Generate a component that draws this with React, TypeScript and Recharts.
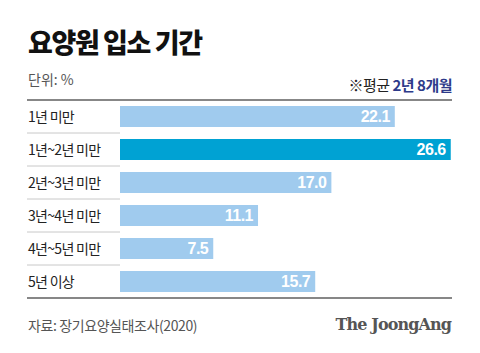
import { BarChart, Bar, XAxis, YAxis, LabelList, Cell } from 'recharts';

const categories = ['1년 미만', '1년~2년 미만', '2년~3년 미만', '3년~4년 미만', '4년~5년 미만', '5년 이상'];
const shares = [22.1, 26.6, 17.0, 11.1, 7.5, 15.7];
const highlighted = '1년~2년 미만';

const data = categories.map((name, i) => ({ name, value: shares[i] }));

const KR = '"Noto Sans CJK KR", "Noto Sans", sans-serif';
const LEFT = 27;
const RIGHT = 452;
const ROW = 33;

function RowTick(props: { x?: number; y?: number; index?: number; payload?: { value: string } }) {
  const { y = 0, index = 0, payload } = props;
  if (!payload) return null;
  const last = index === categories.length - 1;
  return (
    <g>
      {index === 0 && <line x1={LEFT} x2={RIGHT} y1={y - ROW / 2} y2={y - ROW / 2} stroke="#111" strokeWidth={1.2} />}
      {last ? (
        <line x1={LEFT} x2={RIGHT} y1={y + ROW / 2} y2={y + ROW / 2} stroke="#111" strokeWidth={1.2} />
      ) : (
        <line x1={LEFT} x2={120} y1={y + ROW / 2} y2={y + ROW / 2} stroke="#c8c8c8" strokeWidth={1} />
      )}
      <text x={LEFT + 1} y={y} dy={5} textAnchor="start" fill="#222" fontSize={14} fontFamily={KR} letterSpacing={-0.7}>
        {payload.value}
      </text>
    </g>
  );
}

export default function App() {
  return (
    <div style={{ position: 'absolute', left: 0, top: 0, width: 480, height: 353, background: '#fff', fontFamily: KR }}>
      <div style={{ position: 'absolute', left: 28, top: 23, fontSize: 27, fontWeight: 900, color: '#111', letterSpacing: -1.4, lineHeight: '38px' }}>
        요양원 입소 기간
      </div>
      <div style={{ position: 'absolute', left: 28, top: 69, fontSize: 14, color: '#555', lineHeight: '20px' }}>
        단위: %
      </div>
      <div style={{ position: 'absolute', right: 28, top: 74, fontSize: 15, color: '#222', lineHeight: '22px', letterSpacing: -0.5 }}>
        ※평균 <span style={{ fontWeight: 700, color: '#2d3a8a' }}>2년 8개월</span>
      </div>
      <div style={{ position: 'absolute', left: 0, top: 0 }}>
        <BarChart
          width={480}
          height={353}
          data={data}
          layout="vertical"
          margin={{ top: 100, right: 28, bottom: 55, left: LEFT }}
          barCategoryGap={6}
        >
          <XAxis type="number" domain={[0, 26.7]} hide />
          <YAxis type="category" dataKey="name" width={93} axisLine={false} tickLine={false} tick={<RowTick />} interval={0} />
          <Bar dataKey="value" isAnimationActive={false}>
            {data.map((d) => (
              <Cell key={d.name} fill={d.name === highlighted ? '#00a2d3' : '#a0cbee'} />
            ))}
            <LabelList
              dataKey="value"
              position="insideRight"
              offset={5}
              formatter={(v: number) => v.toFixed(1)}
              fill="#fff"
              fontSize={16}
              fontWeight={700}
              fontFamily='"Liberation Sans", Arial, sans-serif'
              letterSpacing={-0.5}
            />
          </Bar>
        </BarChart>
      </div>
      <div style={{ position: 'absolute', left: 28, top: 315, fontSize: 14, color: '#555', lineHeight: '20px', letterSpacing: -0.4 }}>
        자료: 장기요양실태조사(2020)
      </div>
      <div style={{ position: 'absolute', right: 29, top: 313, fontSize: 16, fontWeight: 700, color: '#555', lineHeight: '24px', fontFamily: '"DejaVu Serif", "Liberation Serif", serif', letterSpacing: -0.9 }}>
        The JoongAng
      </div>
    </div>
  );
}
